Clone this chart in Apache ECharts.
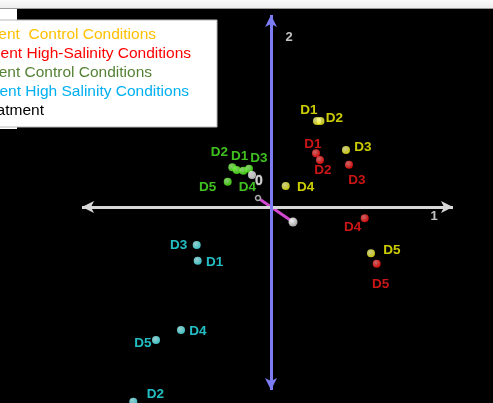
<!DOCTYPE html>
<html>
<head>
<meta charset="utf-8">
<script src="https://cdn.jsdelivr.net/npm/echarts@6/dist/echarts.min.js"></script>
<style>
  html, body { margin: 0; padding: 0; background: #fff; }
  #chart { width: 493px; height: 403px; }
</style>
</head>
<body>
<div id="chart"></div>
<script>
// Sample names shared by every treatment group
const sampleNames = ['D1', 'D2', 'D3', 'D4', 'D5'];

// Component scores (PC1, PC2) per group
const controlAX = [0.46, 0.495, 0.75, 0.147, 1.00];
const controlAY = [0.86, 0.86, 0.57, 0.21, -0.463];

const salinityAX = [0.45, 0.49, 0.78, 0.937, 1.057];
const salinityAY = [0.537, 0.47, 0.423, -0.113, -0.567];

const controlBX = [-0.343, -0.387, -0.22, -0.277, -0.433];
const controlBY = [0.37, 0.397, 0.383, 0.363, 0.253];

const salinityBX = [-0.733, -1.377, -0.743, -0.90, -1.15];
const salinityBY = [-0.537, -1.947, -0.38, -1.23, -1.33];

// Starting sample before any treatment
const baselineX = [-0.19];
const baselineY = [0.32];
const baselineNames = ['0'];

// Loading vector (start, end)
const vectorX = [-0.13, 0.22];
const vectorY = [0.09, -0.15];

// Axis arrow extents and titles
const axis1Range = [-1.89, 1.82];
const axis2Range = [-1.83, 1.92];
const axisTitles = ['1', '2'];

// Legend lines (the left part is cut by the panel edge)
const legendTexts = [
  'ent  Control Conditions',
  'ent High-Salinity Conditions',
  'ent Control Conditions',
  'ent High Salinity Conditions',
  'atment'
];

const FONT = '"Liberation Sans", Arial, Helvetica, sans-serif';

// Label placement around each point, in pixels
const labelOffsets = {
  controlA:  [[-8, -11], [14, -3], [17, -3], [20, 1], [21, -3]],
  salinityA: [[-3, -9], [3, 10], [8, 16], [-12, 9], [4, 21]],
  controlB:  [[3, -14], [-13, -15], [10, -10], [4, 17], [-20, 6]],
  salinityB: [[17, 2], [22, -7], [-18, 0], [17, 1], [-13, 3]]
};

function sphere(base, light) {
  return {
    type: 'radial', x: 0.38, y: 0.35, r: 0.75,
    colorStops: [
      { offset: 0, color: light },
      { offset: 1, color: base }
    ]
  };
}

function groupSeries(name, xs, ys, offsets, pointColor, lightColor, labelColor) {
  return {
    name: name,
    type: 'scatter',
    symbolSize: 8,
    z: 5,
    itemStyle: { color: sphere(pointColor, lightColor) },
    label: {
      show: true,
      position: 'inside',
      formatter: '{b}',
      color: labelColor,
      fontFamily: FONT,
      fontWeight: 'bold',
      fontSize: 13.5
    },
    data: sampleNames.map((n, i) => ({
      name: n,
      value: [xs[i], ys[i]],
      label: { offset: offsets[i] }
    }))
  };
}

const chart = echarts.init(document.getElementById('chart'), null, { renderer: 'canvas' });

const option = {
  backgroundColor: '#000',
  animation: false,
  grid: { left: 0, right: 0, top: 0, bottom: 0 },
  xAxis: { type: 'value', min: -2.71, max: 2.22, show: false },
  yAxis: { type: 'value', min: -1.96, max: 2.07, show: false },
  series: [
    // Axis arrows
    {
      type: 'line',
      data: [],
      silent: true,
      z: 1,
      markLine: {
        silent: true,
        animation: false,
        symbol: ['arrow', 'arrow'],
        symbolSize: [9, 12],
        label: { show: false },
        emphasis: { disabled: true },
        data: [
          [
            { coord: [axis1Range[0], 0], lineStyle: { color: '#d8d8d8', width: 3, type: 'solid' }, itemStyle: { color: '#d8d8d8' } },
            { coord: [axis1Range[1], 0] }
          ],
          [
            { coord: [0, axis2Range[0]], lineStyle: { color: '#7c7cf4', width: 3, type: 'solid' }, itemStyle: { color: '#9494f2' } },
            { coord: [0, axis2Range[1]] }
          ]
        ]
      }
    },
    // Axis titles
    {
      type: 'scatter',
      symbolSize: 1,
      silent: true,
      z: 3,
      itemStyle: { color: 'rgba(0,0,0,0)' },
      label: {
        show: true, position: 'inside', formatter: '{b}',
        color: '#f2f2f2', fontFamily: FONT, fontWeight: 'bold', fontSize: 13
      },
      data: [
        { name: axisTitles[0], value: [1.63, -0.09] },
        { name: axisTitles[1], value: [0.18, 1.70] }
      ]
    },
    // Loading vector
    {
      type: 'line',
      silent: true,
      z: 4,
      symbol: 'circle',
      showSymbol: true,
      lineStyle: { color: '#d048d0', width: 3 },
      data: [
        { value: [vectorX[0], vectorY[0]], symbolSize: 5, itemStyle: { color: '#000', borderColor: '#aaaaaa', borderWidth: 1.5 } },
        { value: [vectorX[1], vectorY[1]], symbolSize: 9, itemStyle: { color: sphere('#9a9a9a', '#f4f4f4'), borderWidth: 0 } }
      ]
    },
    groupSeries('controlA', controlAX, controlAY, labelOffsets.controlA, '#f4f400', '#ffffb0', '#ffff00'),
    groupSeries('salinityA', salinityAX, salinityAY, labelOffsets.salinityA, '#ff0000', '#ff8080', '#ff1a1a'),
    groupSeries('controlB', controlBX, controlBY, labelOffsets.controlB, '#3cf000', '#b0ff90', '#50f028'),
    groupSeries('salinityB', salinityBX, salinityBY, labelOffsets.salinityB, '#40eef4', '#c0ffff', '#2ceef4'),
    // Untreated baseline
    {
      type: 'scatter',
      symbolSize: 8,
      z: 5,
      itemStyle: { color: sphere('#e0e0e0', '#ffffff') },
      label: {
        show: true, position: 'inside', formatter: '{b}',
        offset: [7, 6],
        color: '#ffffff', fontFamily: FONT, fontWeight: 'bold', fontSize: 14,
        textBorderColor: '#555', textBorderWidth: 1
      },
      data: baselineNames.map((n, i) => ({ name: n, value: [baselineX[i], baselineY[i]] }))
    }
  ],
  graphic: [
    // Window strip at top and panel margin beside the legend
    {
      type: 'rect', z: 100, silent: true,
      shape: { x: 0, y: 0, width: 493, height: 9 },
      style: {
        fill: { type: 'linear', x: 0, y: 0, x2: 0, y2: 1,
          colorStops: [{ offset: 0, color: '#fbfbfb' }, { offset: 1, color: '#ececec' }] }
      }
    },
    {
      type: 'rect', z: 100, silent: true,
      shape: { x: 0, y: 8, width: 493, height: 1 },
      style: { fill: '#9a9a9a' }
    },
    {
      type: 'rect', z: 100, silent: true,
      shape: { x: 0, y: 9, width: 17, height: 120 },
      style: { fill: '#ffffff' }
    },
    // Legend box
    {
      type: 'rect', z: 101, silent: true,
      shape: { x: -2, y: 20, width: 219, height: 107 },
      style: { fill: '#ffffff', stroke: '#b8b8b8', lineWidth: 1 }
    },
    ...legendTexts.map((t, i) => ({
      type: 'text', z: 102, silent: true,
      style: {
        text: t,
        x: [156, 191, 152, 189, 44][i],
        y: [35, 54, 73, 92, 111][i],
        align: 'right',
        verticalAlign: 'middle',
        fill: ['#ffc000', '#ff0000', '#548235', '#00b0f0', '#000000'][i],
        font: '15.5px ' + FONT
      }
    }))
  ]
};

chart.setOption(option);
</script>
</body>
</html>
